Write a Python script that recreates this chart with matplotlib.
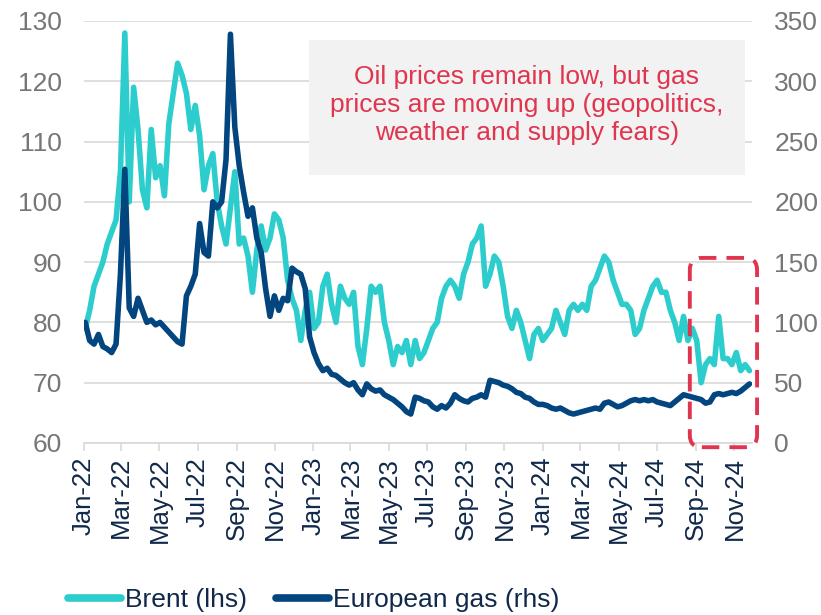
import numpy as np
import pandas as pd
import matplotlib
matplotlib.use("Agg")
import matplotlib.pyplot as plt
import matplotlib.dates as mdates
import matplotlib.transforms as mtransforms
from matplotlib.patches import FancyBboxPatch, Rectangle

plt.rcParams['font.family'] = ['Liberation Sans', 'DejaVu Sans']

# Weekly values (Mondays)
brent_2022 = [79, 82, 86, 88, 90,
              93, 95, 97, 105,
              128, 100, 119, 112,
              102, 99, 112, 104,
              106, 101, 113, 118, 123,
              121, 118, 112, 116,
              111, 102, 106, 108,
              100, 96, 93, 99, 105,
              93, 94, 91, 85,
              92, 96, 92, 94, 98,
              97, 94, 87, 84,
              82, 77, 82, 85]
brent_2023 = [79, 80, 86, 88, 83,
              80, 86, 84, 83,
              85, 76, 73, 79,
              86, 85, 86, 80,
              77, 73, 76, 75, 77,
              73, 77, 74, 75,
              77, 79, 80, 84, 86,
              87, 86, 84, 88,
              90, 93, 94, 96,
              86, 88, 91, 90, 86,
              81, 79, 82, 80,
              77, 74, 78, 79]
brent_2024 = [77, 78, 79, 82, 80,
              78, 82, 83, 82,
              83, 82, 86, 87,
              89, 91, 90, 87, 85,
              83, 83, 82, 78,
              79, 82, 84, 86,
              87, 85, 85, 82, 80,
              77, 81, 77, 79,
              77, 70, 73, 74, 73,
              81, 74, 74, 73,
              75, 72, 73, 72]

gas_2022 = [100, 85, 82, 90, 80,
            78, 75, 82, 140,
            227, 112, 105, 120,
            110, 100, 102, 98,
            100, 96, 92, 88, 84,
            82, 122, 130, 140,
            182, 158, 155, 200,
            195, 200, 235, 339, 262,
            230, 208, 188, 195,
            170, 158, 128, 105, 122,
            110, 120, 118, 145,
            142, 140, 128, 88]
gas_2023 = [75, 66, 60, 62, 57,
            56, 53, 50, 48,
            50, 44, 40, 49,
            45, 43, 44, 40,
            38, 36, 33, 30, 26,
            24, 38, 37, 35,
            34, 30, 28, 31, 29,
            33, 40, 37, 35,
            34, 37, 38, 40,
            38, 52, 51, 50, 48,
            47, 45, 42, 41,
            38, 37, 34, 32]
gas_2024 = [32, 31, 29, 28, 29,
            27, 25, 24, 25,
            26, 27, 28, 29,
            28, 33, 34, 32, 30,
            31, 33, 35, 36,
            35, 36, 35, 36,
            34, 33, 32, 31, 34,
            37, 40, 39, 38,
            37, 36, 33, 34, 40,
            41, 40, 41, 42,
            41, 43, 46, 49]

brent = brent_2022 + brent_2023 + brent_2024
gas = gas_2022 + gas_2023 + gas_2024
dates = pd.date_range('2022-01-03', periods=len(brent), freq='W-MON')

brent_color = '#2ECDCD'
gas_color = '#03457F'
label_grey = '#767676'
navy_text = '#10284A'
red = '#E0354F'

fig = plt.figure(figsize=(8.21, 6.15), dpi=100)
ax = fig.add_axes([0.1023, 0.2797, 0.8137, 0.6862])
ax2 = ax.twinx()

ax.plot(dates, brent, color=brent_color, lw=4, solid_joinstyle='round',
        solid_capstyle='round', label='Brent (lhs)')
ax2.plot(dates, gas, color=gas_color, lw=4, solid_joinstyle='round',
         solid_capstyle='round', label='European gas (rhs)')

ax.set_ylim(60, 130)
ax.set_yticks(np.arange(60, 131, 10))
ax2.set_ylim(0, 350)
ax2.set_yticks(np.arange(0, 351, 50))
ax.set_xlim(pd.Timestamp('2022-01-01'), pd.Timestamp('2024-11-29'))

ax.xaxis.set_major_locator(mdates.MonthLocator(bymonth=[1, 3, 5, 7, 9, 11]))
ax.xaxis.set_major_formatter(mdates.DateFormatter('%b-%y'))

ax.grid(axis='y', color='#D9D9D9', lw=1.2)
ax.set_axisbelow(True)
for a in (ax, ax2):
    for s in ('top', 'left', 'right', 'bottom'):
        a.spines[s].set_visible(False)
ax.spines['bottom'].set_visible(True)
ax.spines['bottom'].set_color('#D9D9D9')
ax.spines['bottom'].set_linewidth(1.2)

ax.tick_params(axis='y', length=0, pad=16, labelsize=19, labelcolor=label_grey)
ax2.tick_params(axis='y', length=0, pad=16, labelsize=19, labelcolor=label_grey)
ax.tick_params(axis='x', direction='out', length=6, width=1.2, color='#D9D9D9',
               pad=4, labelsize=18.5, labelcolor=navy_text)
for lab in ax.get_xticklabels():
    lab.set_rotation(90)
    lab.set_ha('center')

# annotation box
ax.add_patch(Rectangle((0.337, 0.635), 0.6525, 0.32, transform=ax.transAxes,
                       facecolor='#F2F2F2', edgecolor='none', zorder=2))
ax.text(0.663, 0.801, 'Oil prices remain low, but gas\nprices are moving up (geopolitics,\nweather and supply fears)',
        transform=ax.transAxes, ha='center', va='center', fontsize=19,
        color=red, linespacing=1.2, zorder=3)

# dashed highlight around the latest months
x0, y0 = ax.transData.transform((mdates.date2num(pd.Timestamp('2024-08-22')), 59.3))
x1, y1 = ax.transData.transform((mdates.date2num(pd.Timestamp('2024-12-07')), 90.7))
box = FancyBboxPatch((x0, y0), x1 - x0, y1 - y0,
                     boxstyle='round,pad=0,rounding_size=12',
                     transform=mtransforms.IdentityTransform(),
                     facecolor='none', edgecolor=red, lw=2.8,
                     linestyle=(0, (4.5, 2.6)))
fig.add_artist(box)

h1, l1 = ax.get_legend_handles_labels()
h2, l2 = ax2.get_legend_handles_labels()
leg = fig.legend(h1 + h2, l1 + l2, loc='center left', bbox_to_anchor=(0.083, 0.024),
                 ncol=2, frameon=False, fontsize=19, handlelength=2.0,
                 handletextpad=0.15, columnspacing=1.1, borderaxespad=0, borderpad=0)
for t in leg.get_texts():
    t.set_color(navy_text)
for l in leg.get_lines():
    l.set_linewidth(5.5)

fig.savefig('out.png', dpi=100)
